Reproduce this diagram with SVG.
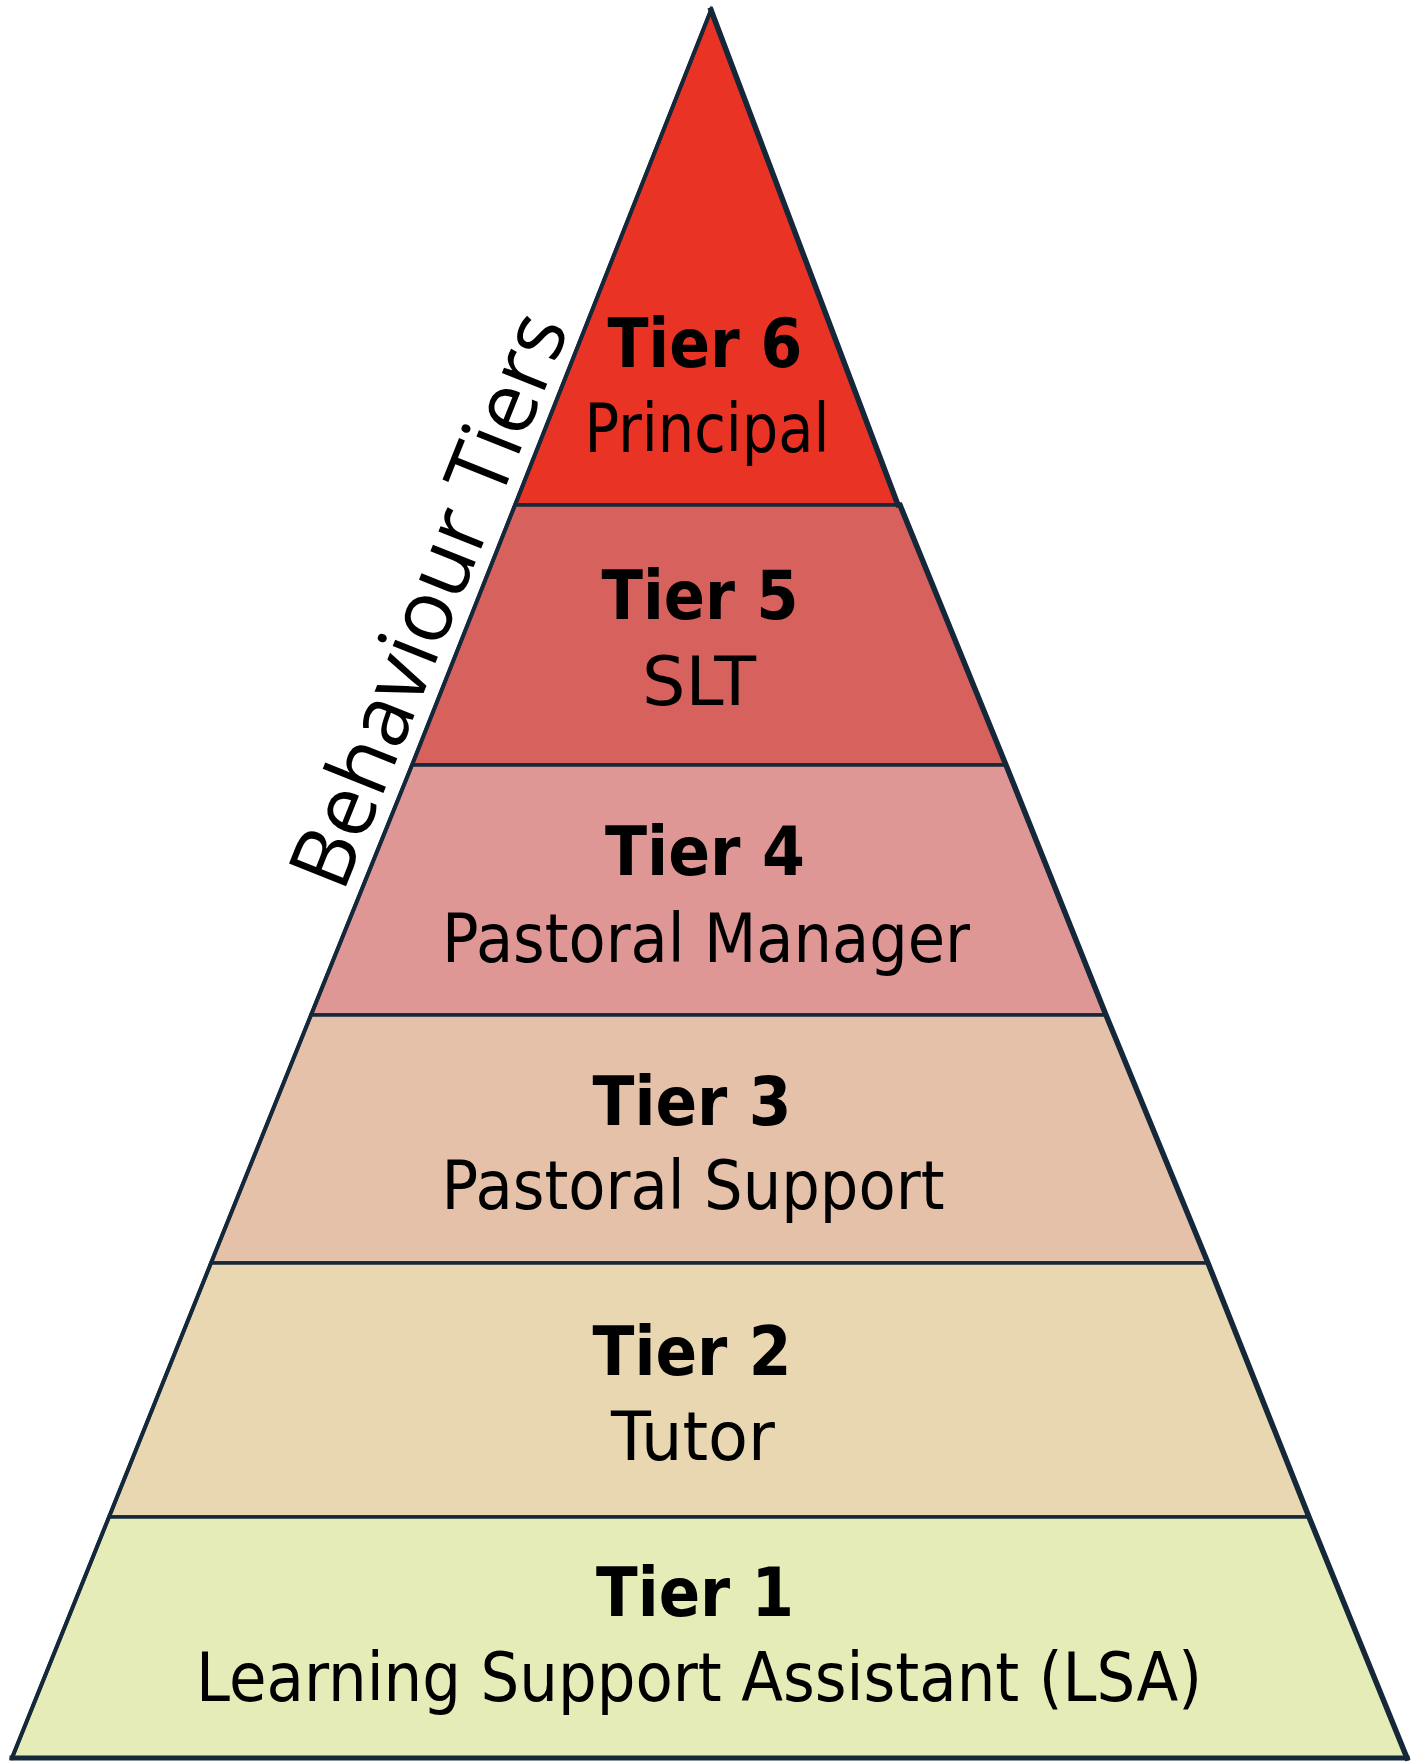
<svg xmlns="http://www.w3.org/2000/svg" width="1422" height="1764" viewBox="0 0 1422 1764">
<style>
.layer{stroke:#14283a;stroke-width:3.5;stroke-linejoin:miter}
.outline{fill:none;stroke:#14283a;stroke-linejoin:miter;stroke-linecap:square}
.t{font-family:"DejaVu Sans","Liberation Sans",sans-serif;font-weight:bold;font-size:68px;fill:#000;text-anchor:middle}
.s{font-family:"DejaVu Sans","Liberation Sans",sans-serif;font-size:67px;fill:#000;text-anchor:middle}
.side{font-family:"Open Sans","Noto Sans",sans-serif;font-size:86px;fill:#000}
</style>
<rect width="1422" height="1764" fill="#ffffff"/>
<g id="tier6">
<polygon class="layer" fill="#e83325" points="711,10 898,505 515,505"/>
<text class="t" x="705" y="367" textLength="195" lengthAdjust="spacingAndGlyphs">Tier 6</text>
<text class="s" x="707" y="452" textLength="245" lengthAdjust="spacingAndGlyphs">Principal</text>
</g>
<g id="tier5">
<polygon class="layer" fill="#d7615c" points="515,505 900,505 1006,765 412,765"/>
<text class="t" x="700" y="619" textLength="197" lengthAdjust="spacingAndGlyphs">Tier 5</text>
<text class="s" x="699" y="705" textLength="114" lengthAdjust="spacingAndGlyphs">SLT</text>
</g>
<g id="tier4">
<polygon class="layer" fill="#df9795" points="412,765 1006,765 1106,1015 311,1015"/>
<text class="t" x="705" y="875" textLength="200" lengthAdjust="spacingAndGlyphs">Tier 4</text>
<text class="s" x="706" y="962" textLength="528" lengthAdjust="spacingAndGlyphs">Pastoral Manager</text>
</g>
<g id="tier3">
<polygon class="layer" fill="#e5c1a9" points="311,1015 1106,1015 1208,1263 211,1263"/>
<text class="t" x="692" y="1125" textLength="199" lengthAdjust="spacingAndGlyphs">Tier 3</text>
<text class="s" x="693" y="1209" textLength="503" lengthAdjust="spacingAndGlyphs">Pastoral Support</text>
</g>
<g id="tier2">
<polygon class="layer" fill="#e8d7b1" points="211,1263 1208,1263 1309,1517 109,1517"/>
<text class="t" x="692" y="1375" textLength="199" lengthAdjust="spacingAndGlyphs">Tier 2</text>
<text class="s" x="693" y="1460" textLength="164" lengthAdjust="spacingAndGlyphs">Tutor</text>
</g>
<g id="tier1">
<polygon class="layer" fill="#e6ecb7" points="109,1517 1309,1517 1407,1758 12,1758"/>
<text class="t" x="695" y="1616" textLength="198" lengthAdjust="spacingAndGlyphs">Tier 1</text>
<text class="s" x="699" y="1701" textLength="1006" lengthAdjust="spacingAndGlyphs">Learning Support Assistant (LSA)</text>
</g>
<g id="connectors">
<polyline class="outline" stroke-width="4" points="711,10 515,505 412,765 311,1015 211,1263 109,1517 12,1758"/>
<polyline class="outline" stroke-width="5.5" points="711,10 898,505 900,505 1006,765 1106,1015 1208,1263 1309,1517 1407,1758"/>
<line class="outline" stroke-width="5" x1="12" y1="1758" x2="1407" y2="1758"/>
</g>
<g id="label">
<text class="side" transform="translate(343,894) rotate(-68.2)" textLength="610" lengthAdjust="spacingAndGlyphs">Behaviour Tiers</text>
</g>
</svg>
